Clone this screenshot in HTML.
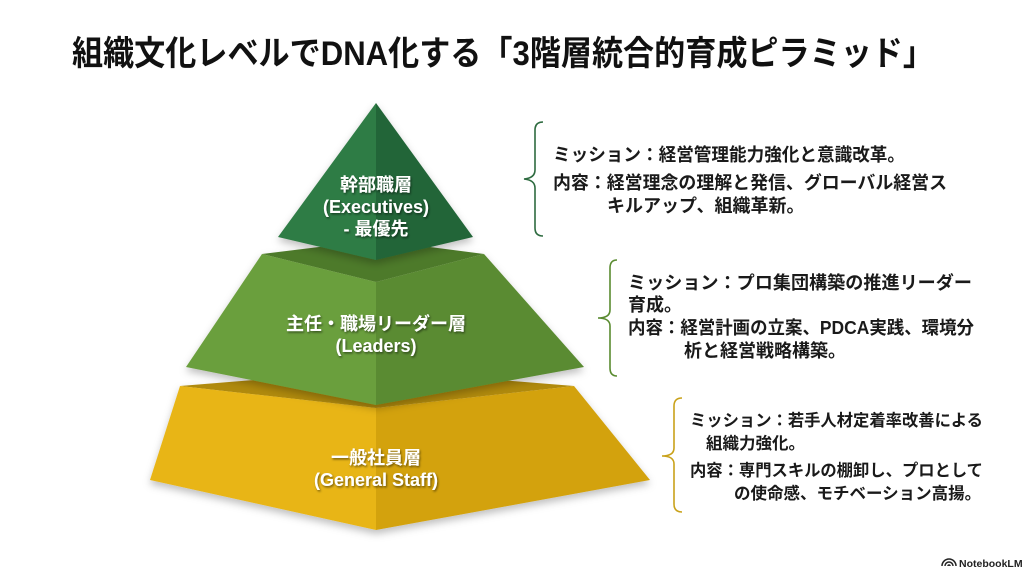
<!DOCTYPE html>
<html><head><meta charset="utf-8"><style>
html,body{margin:0;padding:0;background:#fff;}
svg{display:block;}
.t{font-family:"Liberation Sans","Noto Sans CJK JP",sans-serif;font-weight:bold;}
.lab{fill:#fff;text-anchor:middle;font-size:18px;}
.r{fill:#1a1a1a;}
</style></head><body>
<svg width="1024" height="576" viewBox="0 0 1024 576" xmlns="http://www.w3.org/2000/svg">
<defs>
<filter id="sh" x="-20%" y="-20%" width="140%" height="140%"><feDropShadow dx="1" dy="1.5" stdDeviation="1" flood-color="#000" flood-opacity="0.5"/></filter>
<filter id="ps" x="-10%" y="-10%" width="120%" height="130%"><feDropShadow dx="0" dy="4" stdDeviation="4" flood-color="#000" flood-opacity="0.25"/></filter>
</defs>
<rect width="1024" height="576" fill="#fff"/>
<text class="t" x="72" y="65" font-size="34" fill="#111" textLength="862" lengthAdjust="spacingAndGlyphs">組織文化レベルでDNA化する「3階層統合的育成ピラミッド」</text>

<!-- bottom tier -->
<g filter="url(#ps)">
<polygon points="180,386 376,370 574,386 376,408" fill="#b08a0c"/>
<polygon points="180,386 376,408 376,530 150,480" fill="#e8b516"/>
<polygon points="376,408 574,386 650,480 376,530" fill="#d3a20e"/>
</g>
<!-- middle tier -->
<g filter="url(#ps)">
<polygon points="262,254 376,240 484,254 376,282" fill="#4e7a2a"/>
<polygon points="262,254 376,282 376,405 186,367" fill="#6b9f3c"/>
<polygon points="376,282 484,254 584,367 376,405" fill="#5a8b30"/>
</g>
<!-- top tier -->
<g filter="url(#ps)">
<polygon points="376,103 278,237 376,260" fill="#2e7b45"/>
<polygon points="376,103 473,237 376,260" fill="#236537"/>
</g>

<g filter="url(#sh)">
<text class="t lab" x="376" y="191" font-size="17">幹部職層</text>
<text class="t lab" x="376" y="213" font-size="17">(Executives)</text>
<text class="t lab" x="376" y="235" font-size="17">- 最優先</text>
<text class="t lab" x="376" y="330" font-size="19">主任・職場リーダー層</text>
<text class="t lab" x="376" y="352" font-size="19">(Leaders)</text>
<text class="t lab" x="376" y="464" font-size="18">一般社員層</text>
<text class="t lab" x="376" y="486" font-size="18">(General Staff)</text>
</g>

<!-- brackets -->
<path d="M543,122 Q535,122 535,130 L535,170 Q535,178 524,179 Q535,180 535,188 L535,228 Q535,236 543,236" fill="none" stroke="#2e6b40" stroke-width="1.6"/>
<path d="M617,260 Q610,260 610,268 L610,310 Q610,318 598,318 Q610,318 610,326 L610,368 Q610,376 617,376" fill="none" stroke="#5a8b30" stroke-width="1.6"/>
<path d="M682,398 Q674,398 674,406 L674,448 Q674,456 662,456 Q674,456 674,464 L674,504 Q674,512 682,512" fill="none" stroke="#c9a21a" stroke-width="1.6"/>

<g font-size="18">
<text class="t r" x="553" y="161" textLength="352" lengthAdjust="spacingAndGlyphs">ミッション：経営管理能力強化と意識改革。</text>
<text class="t r" x="553" y="189" textLength="394" lengthAdjust="spacingAndGlyphs">内容：経営理念の理解と発信、グローバル経営ス</text>
<text class="t r" x="607" y="212">キルアップ、組織革新。</text>

<text class="t r" x="628" y="289" textLength="344" lengthAdjust="spacingAndGlyphs">ミッション：プロ集団構築の推進リーダー</text>
<text class="t r" x="628" y="311">育成。</text>
<text class="t r" x="628" y="334" textLength="346" lengthAdjust="spacingAndGlyphs">内容：経営計画の立案、PDCA実践、環境分</text>
<text class="t r" x="684" y="357">析と経営戦略構築。</text>
</g>
<g font-size="16.5">
<text class="t r" x="690" y="426" textLength="293" lengthAdjust="spacingAndGlyphs">ミッション：若手人材定着率改善による</text>
<text class="t r" x="706" y="449">組織力強化。</text>
<text class="t r" x="690" y="476" textLength="293" lengthAdjust="spacingAndGlyphs">内容：専門スキルの棚卸し、プロとして</text>
<text class="t r" x="734" y="499">の使命感、モチベーション高揚。</text>
</g>

<g transform="translate(942,558)">
<path d="M0,8 A7,7 0 0 1 14,8 M3,8 A4,4 0 0 1 11,8 M6,8 A1,1 0 0 1 8,8" fill="none" stroke="#222" stroke-width="1.5"/>
</g>
<text x="959" y="567" font-family="Liberation Sans,sans-serif" font-size="10.5" font-weight="bold" fill="#222">NotebookLM</text>
</svg>
</body></html>
